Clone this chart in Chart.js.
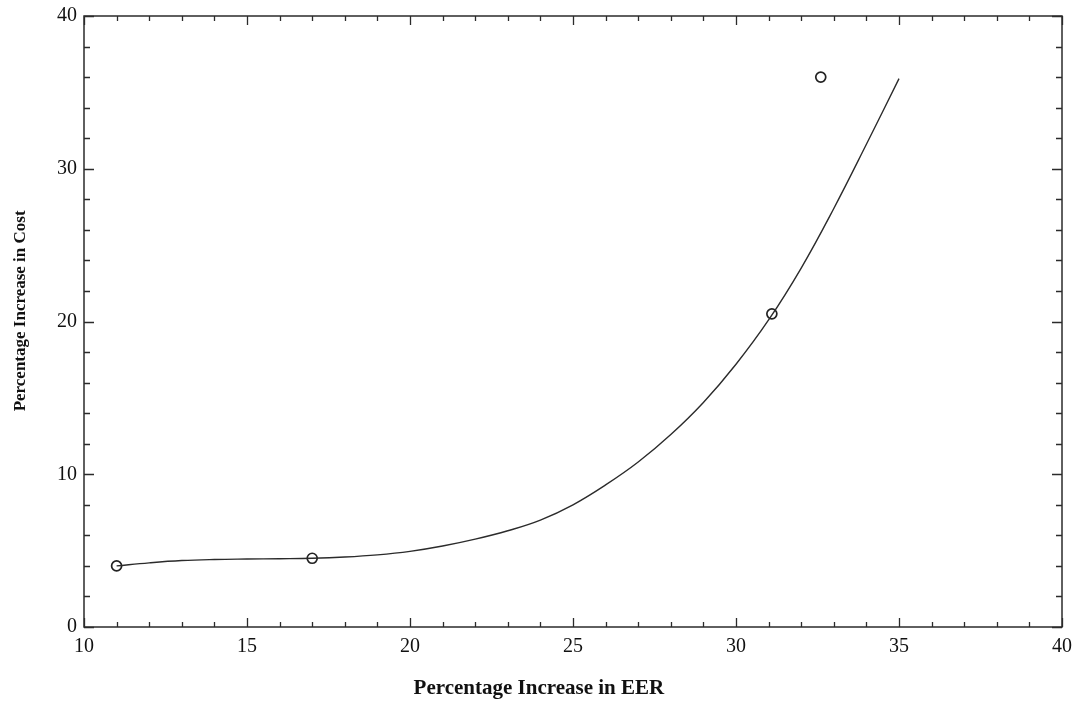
<!DOCTYPE html>
<html>
<head>
<meta charset="utf-8">
<script src="https://cdn.jsdelivr.net/npm/chart.js@4/dist/chart.umd.min.js"></script>
<style>
  html, body { margin: 0; padding: 0; background: #fff; }
  #wrap { width: 1080px; height: 709px; }
</style>
</head>
<body>
<div id="wrap"><canvas id="chart" width="1080" height="709"></canvas></div>
<script>
// fitted curve
const curveX = [11, 12, 13, 14, 15, 16, 17, 18, 19, 20, 21, 22, 23, 24, 25, 26, 27, 28, 29, 30, 31, 32, 33, 34, 35];
const curveY = [4.0, 4.2, 4.35, 4.42, 4.45, 4.47, 4.5, 4.58, 4.72, 4.95, 5.3, 5.75, 6.3, 7.0, 8.0, 9.3, 10.8, 12.6, 14.7, 17.2, 20.1, 23.5, 27.4, 31.6, 35.9];

// measured points
const pointX = [11, 17, 31.1, 32.6];
const pointY = [4.0, 4.5, 20.5, 36.0];

const xTicks = [10, 15, 20, 25, 30, 35, 40];
const yTicks = [0, 10, 20, 30, 40];
const xMinorStep = 1;
const yMinorStep = 2;

const serif = '"Liberation Serif", "Times New Roman", serif';
const ink = '#2b2b2b';
const nb = '\u00A0';

// рамка и засечки внутрь по всем четырём сторонам
const frameTicks = {
    id: 'frameTicks',
    afterDraw(chart) {
        const { ctx, chartArea: a, scales } = chart;
        const xs = scales.x, ys = scales.y;
        ctx.save();
        ctx.strokeStyle = ink;
        ctx.lineWidth = 1.5;
        ctx.strokeRect(a.left, a.top, a.right - a.left, a.bottom - a.top);

        ctx.lineWidth = 1.3;
        ctx.beginPath();
        for (let v = xs.min; v <= xs.max + 1e-9; v += xMinorStep) {
            const px = Math.round(xs.getPixelForValue(v)) + 0.5;
            const len = xTicks.includes(v) ? 9 : 5;
            ctx.moveTo(px, a.bottom); ctx.lineTo(px, a.bottom - len);
            ctx.moveTo(px, a.top);    ctx.lineTo(px, a.top + len);
        }
        for (let v = ys.min; v <= ys.max + 1e-9; v += yMinorStep) {
            const py = Math.round(ys.getPixelForValue(v)) + 0.5;
            const len = yTicks.includes(v) ? 10 : 6;
            ctx.moveTo(a.left, py);  ctx.lineTo(a.left + len, py);
            ctx.moveTo(a.right, py); ctx.lineTo(a.right - len, py);
        }
        ctx.stroke();
        ctx.restore();
    }
};

new Chart(document.getElementById('chart'), {
    type: 'scatter',
    data: {
        datasets: [
            {
                data: curveX.map((x, i) => ({ x, y: curveY[i] })),
                showLine: true,
                borderColor: ink,
                borderWidth: 1.4,
                pointRadius: 0,
                tension: 0.4
            },
            {
                data: pointX.map((x, i) => ({ x, y: pointY[i] })),
                showLine: false,
                pointRadius: 5,
                pointBorderWidth: 1.7,
                pointBorderColor: '#222',
                pointBackgroundColor: '#fff'
            }
        ]
    },
    options: {
        responsive: false,
        animation: false,
        layout: { padding: { top: 16, right: 17, left: 0, bottom: 0 } },
        plugins: { legend: { display: false }, tooltip: { enabled: false } },
        scales: {
            x: {
                type: 'linear',
                min: 10, max: 40,
                afterBuildTicks(s) { s.ticks = xTicks.map(v => ({ value: v })); },
                afterFit(s) { s.height = 82; },
                grid: { display: false, drawTicks: false },
                border: { display: false },
                ticks: { color: '#111', padding: 8, font: { family: serif, size: 20 } },
                title: {
                    display: true,
                    // trailing spaces pull the title a bit left, as in the original
                    text: 'Percentage Increase in EER' + nb.repeat(13),
                    color: '#111',
                    font: { family: serif, size: 21, weight: 'bold' },
                    padding: { top: 0, bottom: 8 }
                }
            },
            y: {
                type: 'linear',
                min: 0, max: 40,
                afterBuildTicks(s) { s.ticks = yTicks.map(v => ({ value: v })); },
                afterFit(s) { s.width = 84; s.paddingTop = 0; s.paddingBottom = 0; },
                grid: { display: false, drawTicks: false },
                border: { display: false },
                ticks: { color: '#111', padding: 7, font: { family: serif, size: 20 } },
                title: {
                    display: true,
                    text: nb.repeat(5) + 'Percentage Increase in Cost',
                    color: '#111',
                    font: { family: serif, size: 17, weight: 'bold' },
                    padding: { top: 10, bottom: 0 }
                }
            }
        }
    },
    plugins: [frameTicks]
});
</script>
</body>
</html>
